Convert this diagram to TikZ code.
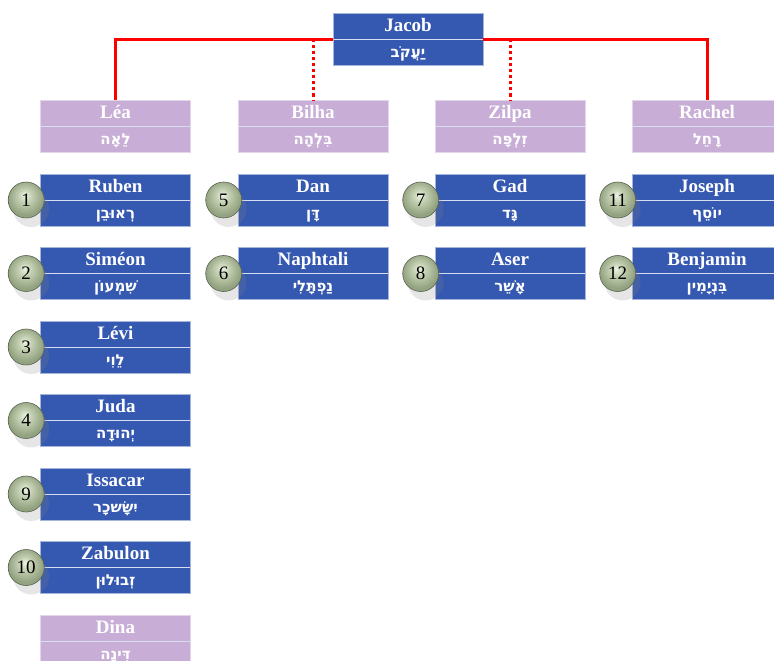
\documentclass[tikz,border=0pt]{standalone}
\usepackage{fontspec}
\setmainfont{Liberation Serif}
\newfontfamily\hebfont[Script=Hebrew]{DejaVu Sans}
\TeXXeTstate=1
\usetikzlibrary{shadows}
\definecolor{sonblue}{HTML}{3558B0}
\definecolor{wifepurple}{HTML}{C8AED6}
\definecolor{ballhi}{HTML}{EDF3E4}
\definecolor{ballmid}{HTML}{C4D0B2}
\definecolor{balledge}{HTML}{93A381}
\pgfdeclareradialshading{badgeball}{\pgfpoint{-2bp}{7bp}}{color(0bp)=(ballhi); color(9bp)=(ballmid); color(24bp)=(balledge); color(50bp)=(balledge)}
\newcommand{\heb}[1]{{\hebfont\bfseries\fontsize{15}{26}\selectfont\beginR #1\endR}}
\tikzset{
  person/.style={rectangle, inner sep=0pt, minimum width=150pt, minimum height=52pt,
    align=center, text=white, line width=0.6pt, font=\bfseries\fontsize{19}{26}\selectfont,
    path picture={\draw[white!80!sonblue, line width=1pt] (path picture bounding box.west) -- (path picture bounding box.east);}},
  son/.style={person, fill=sonblue, draw=white!55!sonblue},
  wife/.style={person, fill=wifepurple, draw=white!50!wifepurple},
  badge/.style={circle, minimum size=36pt, inner sep=0pt, draw=black!40!balledge, line width=0.6pt,
    shading=badgeball, text=black, font=\fontsize{19}{19}\selectfont,
    drop shadow={shadow xshift=5pt, shadow yshift=-9pt, opacity=0.2}},
  marriage/.style={red, line width=3pt},
  concubine/.style={red, line width=3pt, dash pattern=on 3pt off 3pt},
}
\begin{document}
\begin{tikzpicture}[x=1pt,y=-1pt]
  \useasboundingbox (0,0) rectangle (774,661);
  % patriarch and wives
  \node[son] (jacob) at (408,39.5) {\strut Jacob\\\strut\heb{יַעֲקֹב}};
  \node[wife] (lea) at (115.5,126.5) {\strut Léa\\\strut\heb{לֵאָה}};
  \node[wife] (bilha) at (313,126.5) {\strut Bilha\\\strut\heb{בִּלְהָה}};
  \node[wife] (zilpa) at (510,126.5) {\strut Zilpa\\\strut\heb{זִלְפָּה}};
  \node[wife] (rachel) at (707,126.5) {\strut Rachel\\\strut\heb{רָחֵל}};
  \draw[marriage] (jacob.west) -| (lea.north);
  \draw[marriage] (jacob.east) -| (rachel.north);
  \draw[concubine] (bilha.north |- jacob.west) -- (bilha.north);
  \draw[concubine] (zilpa.north |- jacob.east) -- (zilpa.north);
  % sons of Lea
  \node[son] (ruben) at (115.5,200) {\strut Ruben\\\strut\heb{רְאוּבֵן}};
  \node[badge] (n1) at ([xshift=-14pt]ruben.west) {1};
  \node[son] (simeon) at (115.5,273.5) {\strut Siméon\\\strut\heb{שִׁמְעוֹן}};
  \node[badge] (n2) at ([xshift=-14pt]simeon.west) {2};
  \node[son] (levi) at (115.5,347) {\strut Lévi\\\strut\heb{לֵוִי}};
  \node[badge] (n3) at ([xshift=-14pt]levi.west) {3};
  \node[son] (juda) at (115.5,420.5) {\strut Juda\\\strut\heb{יְהוּדָה}};
  \node[badge] (n4) at ([xshift=-14pt]juda.west) {4};
  \node[son] (issacar) at (115.5,494) {\strut Issacar\\\strut\heb{יִשָּׂשכָר}};
  \node[badge] (n9) at ([xshift=-14pt]issacar.west) {9};
  \node[son] (zabulon) at (115.5,567.5) {\strut Zabulon\\\strut\heb{זְבוּלוּן}};
  \node[badge] (n10) at ([xshift=-14pt]zabulon.west) {10};
  \node[wife] (dina) at (115.5,641) {\strut Dina\\\strut\heb{דִּינָה}};
  % sons of Bilha
  \node[son] (dan) at (313,200) {\strut Dan\\\strut\heb{דָּן}};
  \node[badge] (n5) at ([xshift=-14pt]dan.west) {5};
  \node[son] (naphtali) at (313,273.5) {\strut Naphtali\\\strut\heb{נַפְתָּלִי}};
  \node[badge] (n6) at ([xshift=-14pt]naphtali.west) {6};
  % sons of Zilpa
  \node[son] (gad) at (510,200) {\strut Gad\\\strut\heb{גָּד}};
  \node[badge] (n7) at ([xshift=-14pt]gad.west) {7};
  \node[son] (aser) at (510,273.5) {\strut Aser\\\strut\heb{אָשֵׁר}};
  \node[badge] (n8) at ([xshift=-14pt]aser.west) {8};
  % sons of Rachel
  \node[son] (joseph) at (707,200) {\strut Joseph\\\strut\heb{יוֹסֵף}};
  \node[badge] (n11) at ([xshift=-14pt]joseph.west) {11};
  \node[son] (benjamin) at (707,273.5) {\strut Benjamin\\\strut\heb{בִּנְיָמִין}};
  \node[badge] (n12) at ([xshift=-14pt]benjamin.west) {12};
\end{tikzpicture}
\end{document}
